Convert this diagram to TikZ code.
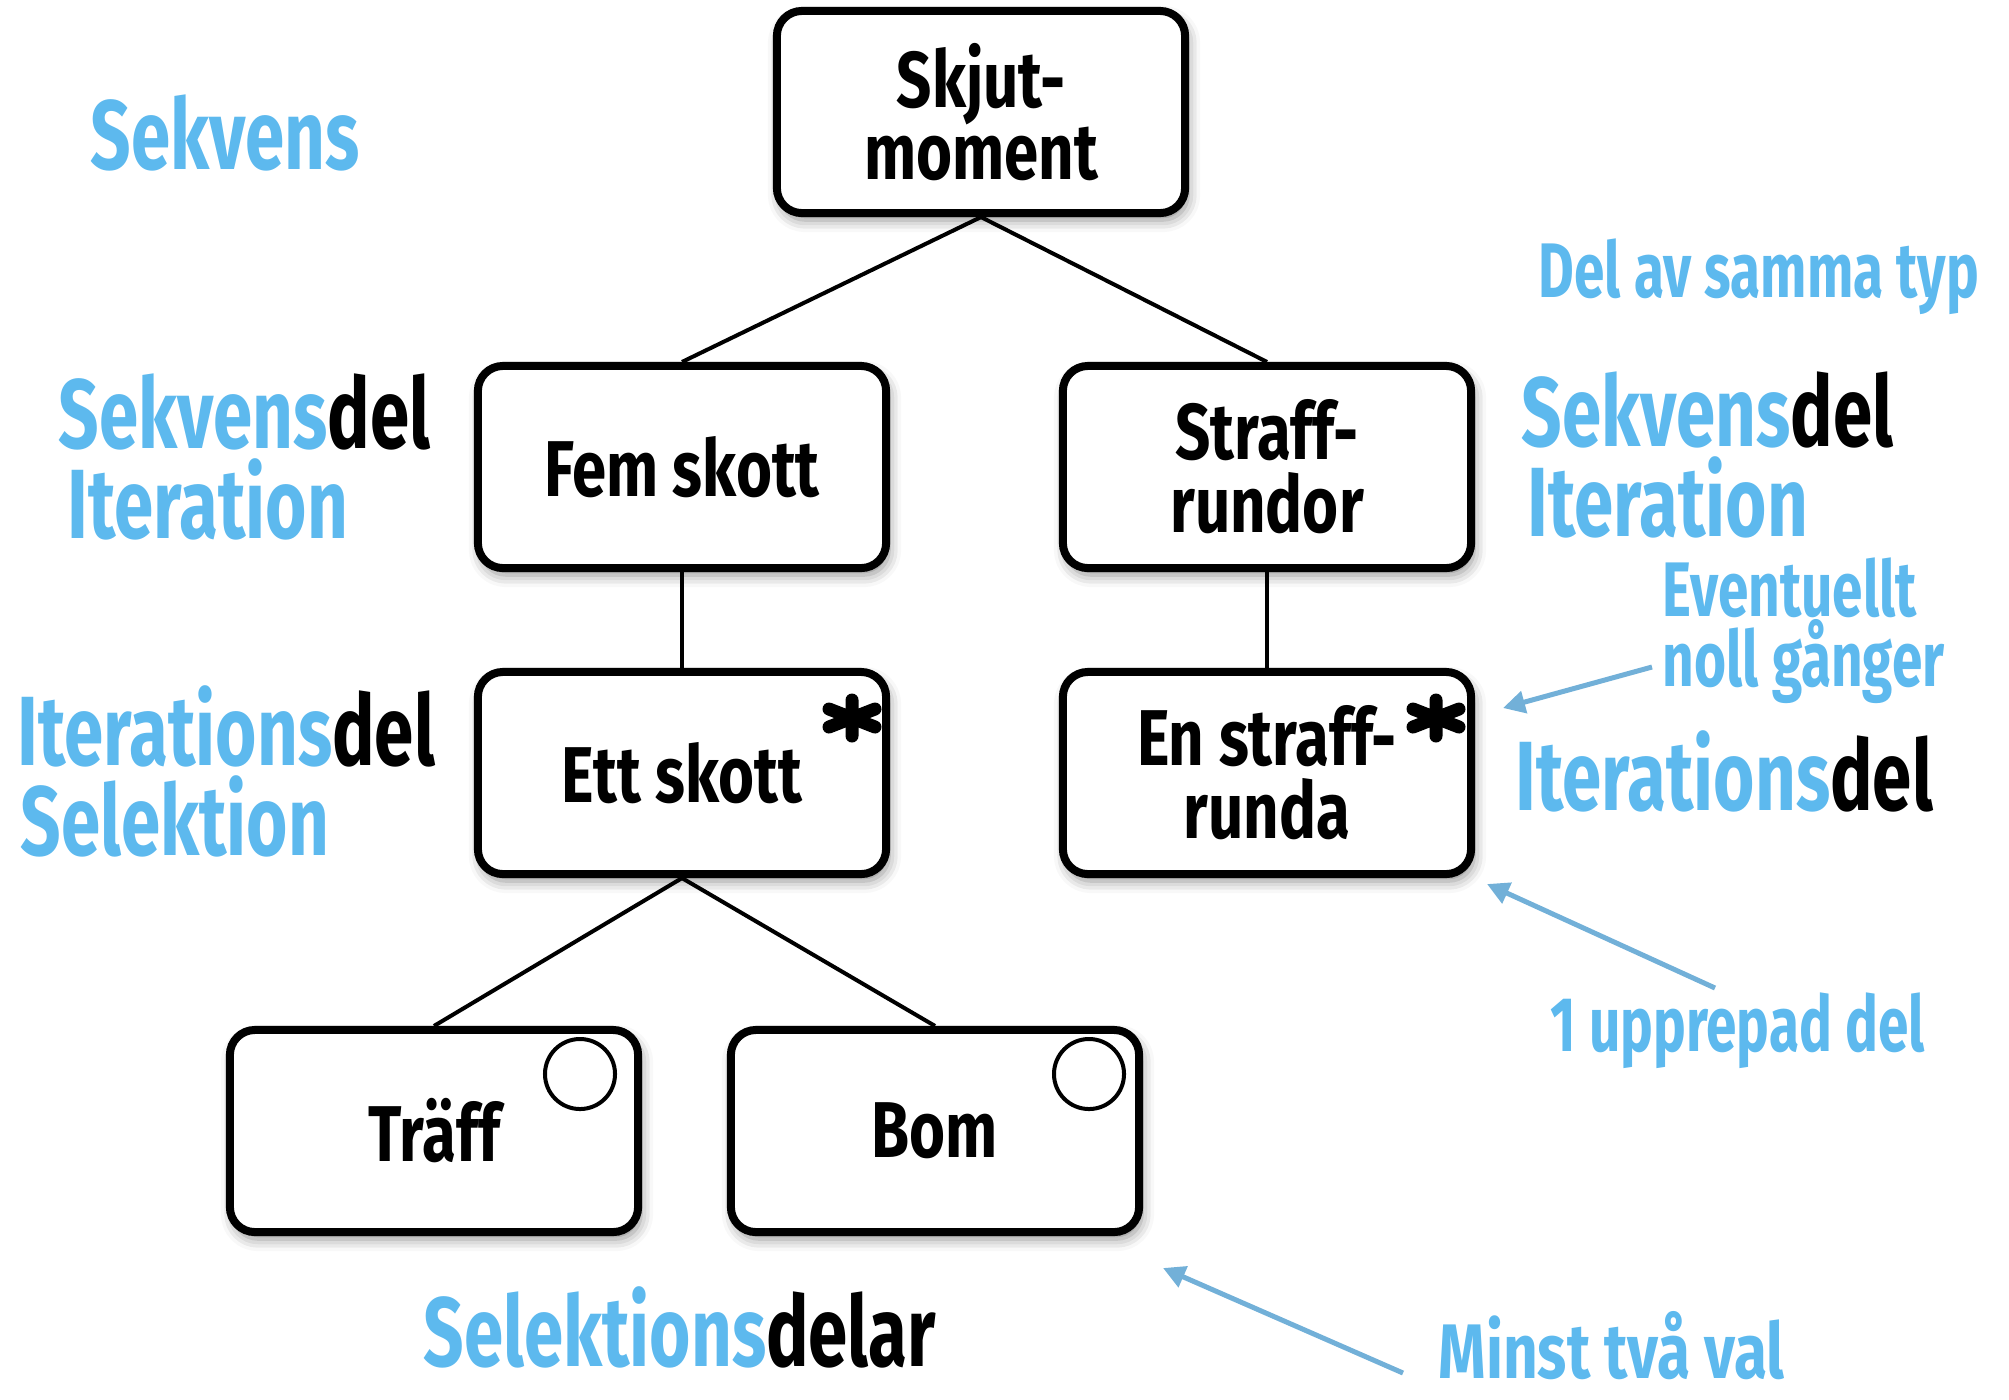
\documentclass[tikz,border=0pt]{standalone}
\usepackage{fontspec}
\newfontfamily\boxface{Fira Sans}[FakeStretch=0.78]
\newfontfamily\labelface{Fira Sans}[FakeStretch=0.72]
\newfontfamily\noteface{Fira Sans}[FakeStretch=0.71]
\usetikzlibrary{shadows.blur,arrows.meta}
\definecolor{labelblue}{HTML}{5DB9EE}
\definecolor{arrowblue}{HTML}{72B0D8}
\tikzset{
  partbox/.style={draw, line width=0.08cm, rounded corners=0.25cm, fill=white,
    minimum width=4.08cm, minimum height=2.02cm, inner sep=0pt, align=center,
    font=\boxface\fontsize{22.5}{20.7}\selectfont\bfseries,
    blur shadow={shadow xshift=0.03cm, shadow yshift=-0.07cm,
      shadow blur radius=0.12cm, shadow opacity=45}},
  link/.style={line width=0.04cm},
  biglabel/.style={anchor=base west, inner sep=0pt, text=labelblue,
    font=\labelface\fontsize{28}{30}\selectfont\bfseries},
  smalllabel/.style={anchor=base west, inner sep=0pt, text=labelblue,
    font=\noteface\fontsize{22}{24}\selectfont\bfseries},
  widelabel/.style={smalllabel, font=\boxface\fontsize{22}{24}\selectfont\bfseries},
  callout/.style={draw=arrowblue, line width=0.05cm,
    -{Triangle[length=0.22cm, width=0.22cm]}},
  choice ring/.style={draw, line width=0.04cm},
  star mark/.pic={
    \draw[line width=0.13cm, line cap=round]
      (0,-18) -- (0,18) (-23,-9) -- (23,9) (-23,9) -- (23,-9);}
}
\begin{document}
\begin{tikzpicture}[x=0.01cm, y=-0.01cm]
\useasboundingbox (0,0) rectangle (2009,1399);

% tree of parts
\node[partbox] (top)      at (981,112)  {Skjut-\\moment};
\node[partbox] (fem)      at (682,467)  {Fem skott};
\node[partbox] (straff)   at (1267,467) {Straff-\\rundor};
\node[partbox] (ett)      at (682,773)  {Ett skott};
\node[partbox] (enstraff) at (1267,773) {En straff-\\runda};
\node[partbox] (traff)    at (434,1131) {Träff};
\node[partbox] (bom)      at (935,1131) {Bom};

\draw[link] (top.south) -- (fem.north);
\draw[link] (top.south) -- (straff.north);
\draw[link] (fem.south) -- (ett.north);
\draw[link] (straff.south) -- (enstraff.north);
\draw[link] (ett.south) -- (traff.north);
\draw[link] (ett.south) -- (bom.north);

% iteration marks
\pic at (852,718) {star mark};
\pic at (1436,718) {star mark};

% selection marks
\draw[choice ring] (580,1074) circle [radius=0.35cm];
\draw[choice ring] (1089,1074) circle [radius=0.35cm];

% role labels
\node[biglabel] (lsek) at (90,169) {Sekvens};
\node[smalllabel] (ltyp) at (1538,297) {Del av samma typ};
\node[biglabel] (lsekdel1) at (58,448) {Sekvens\textcolor{black}{del}};
\node[biglabel] (lit1) at (67,538) {Iteration};
\node[biglabel] (lsekdel2) at (1521,446) {Sekvens\textcolor{black}{del}};
\node[biglabel] (lit2) at (1527,536) {Iteration};
\node[smalllabel] (lev) at (1662,616) {Eventuellt};
\node[smalllabel] (lnoll) at (1662,686) {noll gånger};
\node[biglabel] (litdel1) at (17,765) {Iterations\textcolor{black}{del}};
\node[biglabel] (lsel) at (20,855) {Selektion};
\node[biglabel] (litdel2) at (1515,810) {Iterations\textcolor{black}{del}};
\node[smalllabel] (lupp) at (1550,1051) {1 upprepad del};
\node[biglabel] (lseldel) at (423,1366) {Selektions\textcolor{black}{delar}};
\node[widelabel] (lminst) at (1438,1378) {Minst två val};

% pointers
\coordinate (p1s) at (1652,667);
\coordinate (p1e) at (1503,708);
\coordinate (p2s) at (1715,988);
\coordinate (p2e) at (1487,884);
\coordinate (p3s) at (1403,1373);
\coordinate (p3e) at (1163,1268);
\draw[callout] (p1s) -- (p1e);
\draw[callout] (p2s) -- (p2e);
\draw[callout] (p3s) -- (p3e);
\end{tikzpicture}
\end{document}
